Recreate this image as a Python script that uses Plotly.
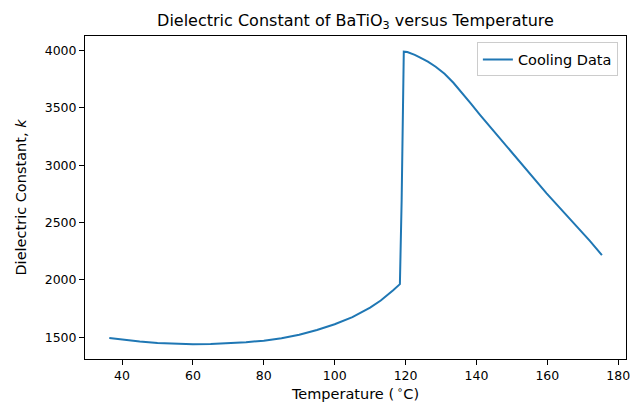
import plotly.graph_objects as go

# Cooling data
temperature = [36.4, 40.0, 45.0, 50.0, 55.0, 60.0, 65.0, 70.0, 75.0, 80.0, 85.0,
               90.0, 95.0, 100.0, 105.0, 110.0, 113.0, 116.5, 118.4,
               118.9, 119.25, 119.2, 119.35, 119.5, 120.5, 121.5, 122.6, 124.0,
               126.3, 128.5, 131.0, 133.5, 136.0, 138.5, 141.0, 143.5, 146.0,
               148.0, 150.4, 155.0, 159.8, 165.0, 169.2, 172.0, 175.4]
dielectric_k = [1494, 1480, 1463, 1450, 1442, 1439, 1441, 1447, 1456, 1470, 1492,
                1522, 1563, 1613, 1675, 1758, 1820, 1910, 1963,
                2700, 3630, 3560, 3600, 3991, 3988, 3978, 3963, 3942,
                3905, 3860, 3798, 3720, 3630, 3535, 3440, 3348, 3258,
                3188, 3100, 2930, 2755, 2578, 2437, 2340, 2216]

x_ticks = [40, 60, 80, 100, 120, 140, 160, 180]
y_ticks = [1500, 2000, 2500, 3000, 3500, 4000]

FONT = "DejaVu Sans"

fig = go.Figure()
fig.add_trace(go.Scatter(
    x=temperature, y=dielectric_k, mode="lines", name="Cooling Data",
    line=dict(color="#1f77b4", width=2),
))

axis_common = dict(
    showline=True, linecolor="black", linewidth=1, mirror=True,
    ticks="outside", ticklen=5, tickwidth=1, tickcolor="black",
    showgrid=False, zeroline=False, automargin=False,
    tickfont=dict(family=FONT, size=12.5, color="black"),
)

# page body has an 8px offset, so the figure is shifted/resized to compensate
fig.update_layout(
    width=631, height=397,
    margin=dict(l=77, r=13, t=28, b=46),
    paper_bgcolor="white", plot_bgcolor="white",
    font=dict(family=FONT, size=12.5, color="black"),
    title=dict(text="Dielectric Constant of BaTiO<sub>3</sub> versus Temperature",
               x=0.5, xref="paper", xanchor="center",
               y=1 - 12 / 397, yref="container", yanchor="middle",
               font=dict(family=FONT, size=16, color="black")),
    xaxis=dict(range=[29.55, 182.2], tickvals=x_ticks,
               title=dict(text="Temperature (\u2009<sup>\u2218</sup>C)", standoff=6,
                          font=dict(family=FONT, size=14.5)),
               **axis_common),
    yaxis=dict(range=[1310, 4128], tickvals=y_ticks,
               title=dict(text="Dielectric Constant, <i>k</i>", standoff=14,
                          font=dict(family=FONT, size=14.5)),
               **axis_common),
    showlegend=True,
    legend=dict(x=0.985, xanchor="right", y=0.98, yanchor="top",
                bordercolor="#cccccc", borderwidth=1, bgcolor="white",
                font=dict(family=FONT, size=14.5)),
)

fig.write_html("out.html")
